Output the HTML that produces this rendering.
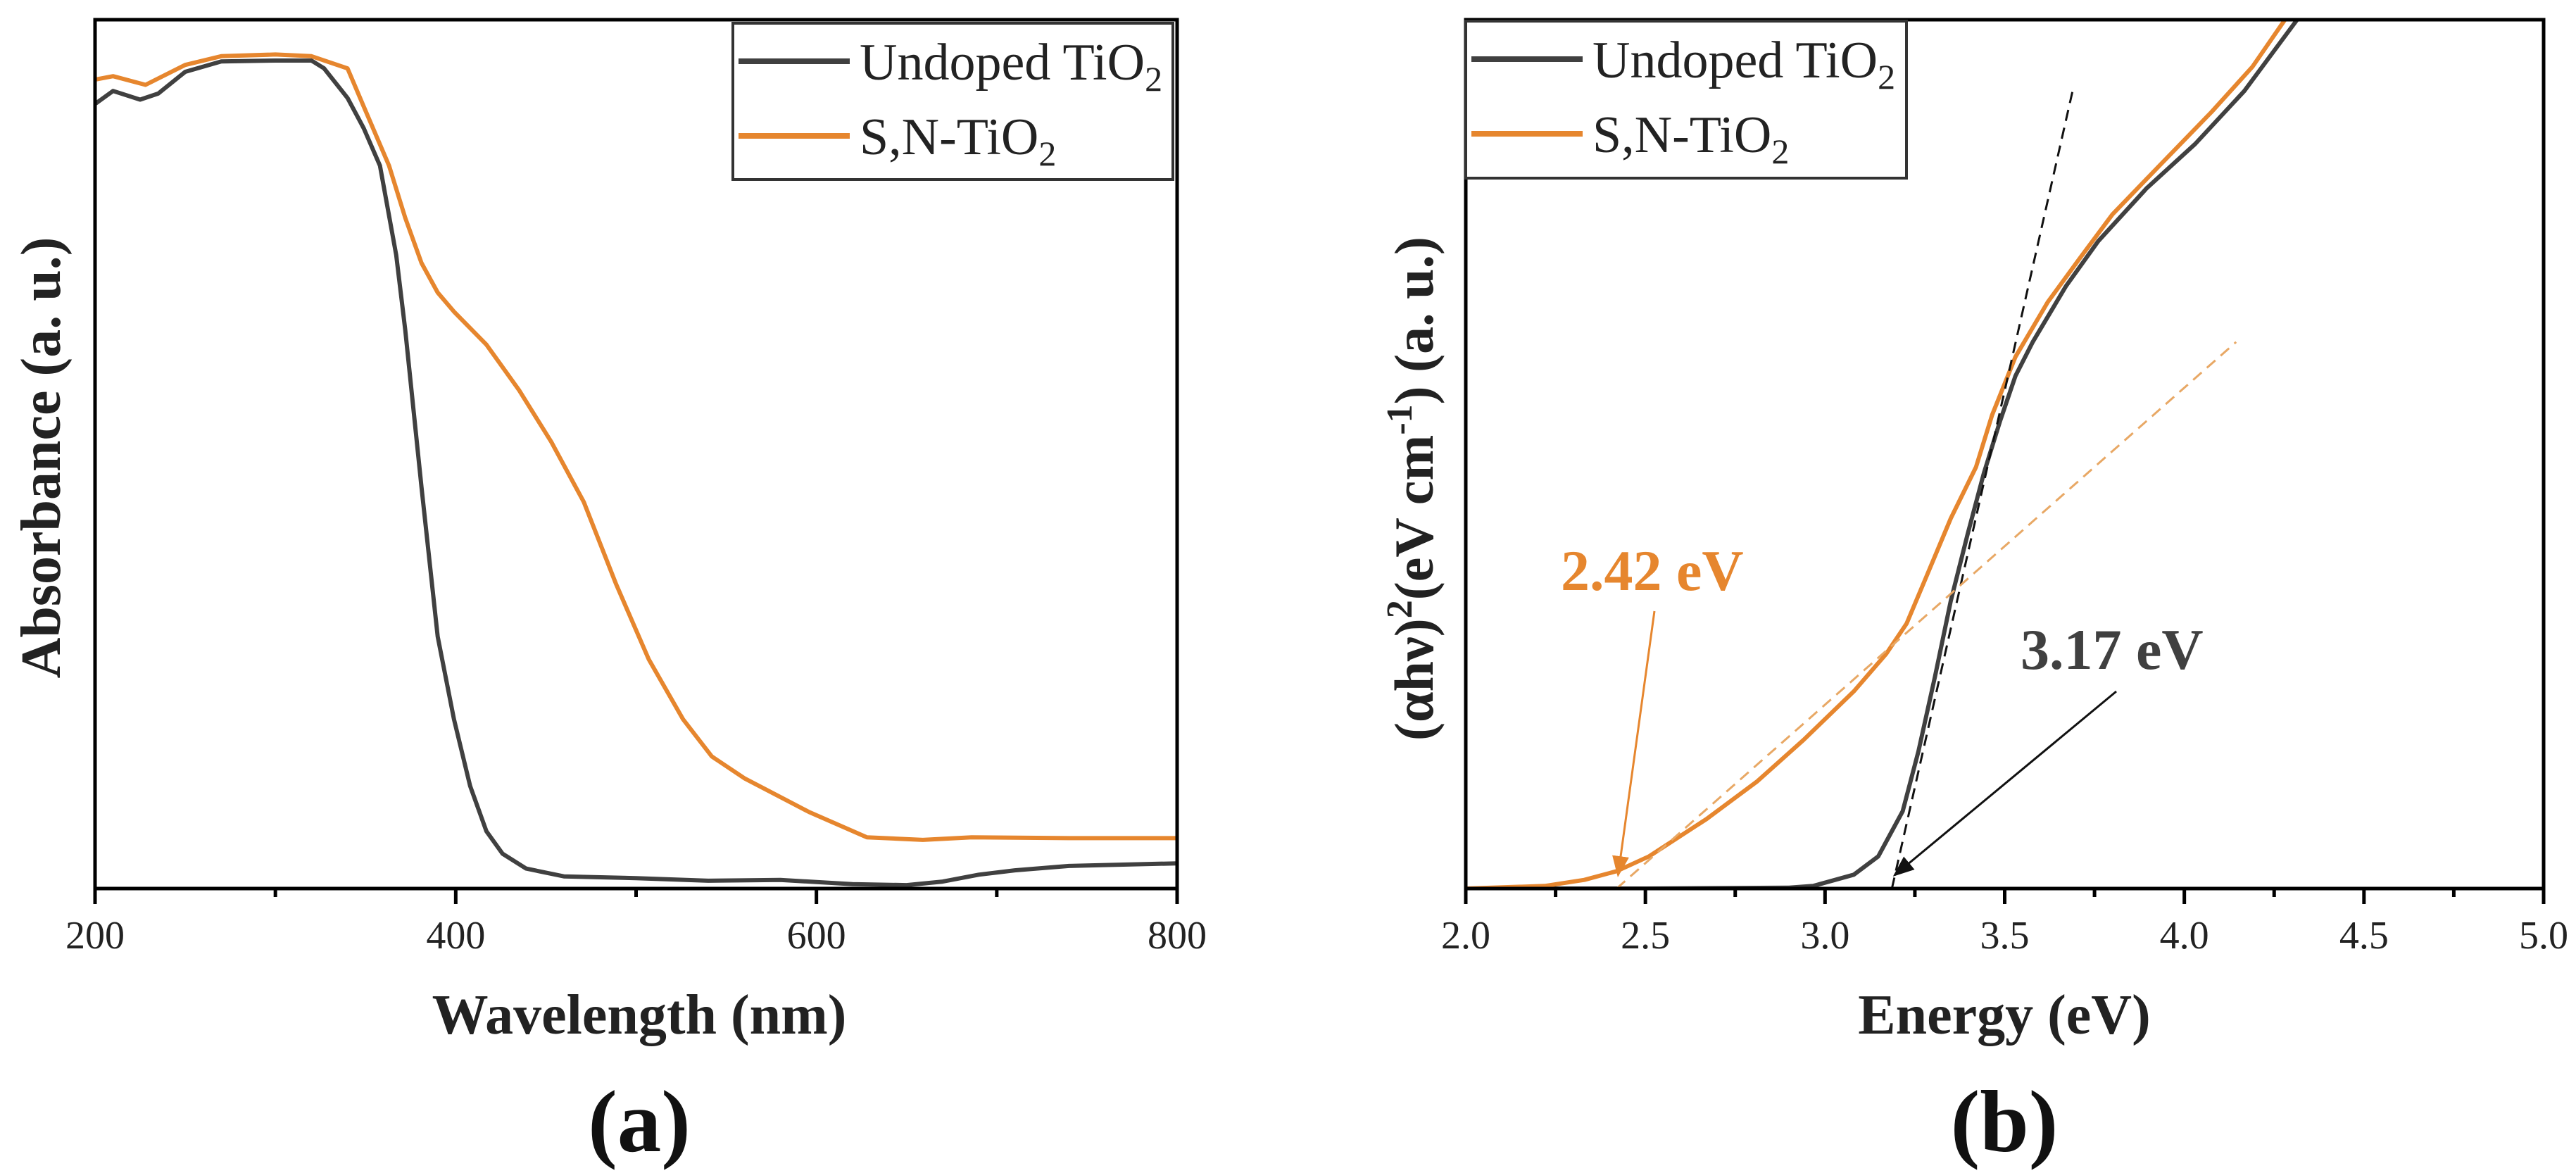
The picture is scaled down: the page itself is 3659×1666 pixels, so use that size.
<!DOCTYPE html>
<html><head><meta charset="utf-8"><style>
html,body{margin:0;padding:0;background:#fff;}
svg{display:block;font-family:"Liberation Serif","DejaVu Serif",serif;}
</style></head><body>
<svg id="fig" width="3659" height="1666" viewBox="0 0 3659 1666" xmlns="http://www.w3.org/2000/svg">
<g id="pa"></g>
<g id="pb"></g>
</svg>
<script>
// Panel (a) data
const wlGray = [200,210,225,235,250,270,300,320,327,340,349,358,367,372,381,390,399,408,417,426,439,460,500,540,580,620,650,670,690,710,740,800];
const absGray = [0.903,0.918,0.908,0.915,0.94,0.952,0.953,0.953,0.944,0.91,0.875,0.832,0.729,0.643,0.462,0.29,0.195,0.118,0.066,0.04,0.023,0.014,0.012,0.009,0.01,0.005,0.004,0.008,0.016,0.021,0.026,0.029];
const wlOr = [200,210,228,250,270,300,320,340,349,363,372,381,390,399,417,435,453,471,489,507,526,542,560,596,628,659,686,740,800];
const absOr = [0.931,0.935,0.925,0.948,0.958,0.96,0.958,0.944,0.90,0.832,0.772,0.72,0.686,0.664,0.626,0.574,0.514,0.445,0.35,0.264,0.195,0.152,0.127,0.088,0.059,0.056,0.059,0.058,0.058];
const ticksA = [200,400,600,800];
const minorA = [300,500,700];
// Panel (b) data
const eGray = [2.0,2.5,2.9,2.967,3.08,3.148,3.216,3.26,3.306,3.35,3.397,3.442,3.487,3.53,3.578,3.67,3.76,3.895,4.03,4.167,4.314];
const tGray = [0,0,0.001,0.003,0.016,0.037,0.089,0.158,0.244,0.331,0.408,0.478,0.538,0.59,0.629,0.693,0.745,0.806,0.857,0.918,1.0];
const eOr = [2.0,2.22,2.33,2.42,2.51,2.67,2.81,2.94,3.08,3.17,3.227,3.28,3.35,3.42,3.465,3.53,3.62,3.71,3.80,3.94,4.076,4.19,4.28];
const tOr = [0,0.003,0.01,0.02,0.037,0.08,0.123,0.171,0.227,0.27,0.305,0.357,0.426,0.485,0.545,0.612,0.675,0.726,0.776,0.836,0.894,0.946,1.0];
const fitGrayE = [3.186,3.69];
const fitGrayT = [0,0.92];
const fitOrE = [2.42,4.144];
const fitOrT = [0,0.629];
const ticksB = [2.0,2.5,3.0,3.5,4.0,4.5,5.0];
const minorB = [2.25,2.75,3.25,3.75,4.25,4.75];

const NS="http://www.w3.org/2000/svg";
const GRAY="#404040", ORANGE="#e6862e";
const TOP=28, BOT=1262;
function mk(parent,tag,attrs,text){const e=document.createElementNS(NS,tag);for(const k in attrs)e.setAttribute(k,attrs[k]);if(text!==undefined)e.textContent=text;parent.appendChild(e);return e;}
function yS(v){return BOT-v*(BOT-TOP);}
function path(xs,ys,fx){return xs.map((x,i)=>(i?'L':'M')+fx(x).toFixed(1)+','+yS(ys[i]).toFixed(1)).join(' ');}

function frame(g,L,R,ticks,minor,fx,fmt){
  const f=mk(g,'rect',{x:L,y:TOP,width:R-L,height:BOT-TOP,fill:'none',stroke:'#000','stroke-width':5});
  
  
  ticks.forEach(t=>{
    const l=mk(g,'line',{x1:fx(t),x2:fx(t),y1:BOT,y2:BOT+22,stroke:'#000','stroke-width':5});
    
    
    const tx=mk(g,'text',{x:fx(t),y:BOT+85,'font-size':56,'text-anchor':'middle',fill:'#222'},fmt(t));
    
    
  });
  minor.forEach(t=>{
    const l=mk(g,'line',{x1:fx(t),x2:fx(t),y1:BOT,y2:BOT+12,stroke:'#000','stroke-width':5});
    
    
  });
}
function legend(g,x0,y0,w,h){
  const r=mk(g,'rect',{x:x0,y:y0,width:w,height:h,fill:'#fff',stroke:'#333','stroke-width':4});
  
  
  const rows=[[GRAY,'Undoped TiO',y0+54],[ORANGE,'S,N-TiO',y0+160]];
  rows.forEach(([c,t,y])=>{
    const l=mk(g,'line',{x1:x0+8,x2:x0+166,y1:y,y2:y,stroke:c,'stroke-width':8});
    
    
    const tx=mk(g,'text',{x:x0+180,y:y+26,'font-size':74,fill:'#222'});
    
    
    mk(tx,'tspan',{},t);
    mk(tx,'tspan',{'font-size':50,dy:16},'2');
  });
}

// Panel A
(function(){
  const g=document.getElementById('pa');
  const L=135,R=1672;
  const fx=w=>L+(w-200)/600*(R-L);
  const pg=mk(g,'path',{d:path(wlGray,absGray,fx),fill:'none',stroke:GRAY,'stroke-width':6,'stroke-linejoin':'round'});
  
  
  const po=mk(g,'path',{d:path(wlOr,absOr,fx),fill:'none',stroke:ORANGE,'stroke-width':6,'stroke-linejoin':'round'});
  
  
  frame(g,L,R,ticksA,minorA,fx,t=>String(t));
  legend(g,1041,33,625,222);
  const xt=mk(g,'text',{x:908,y:1468,'font-size':80,'font-weight':'bold','text-anchor':'middle',fill:'#222'},'Wavelength (nm)');
  
  
  const yt=mk(g,'text',{x:0,y:0,'font-size':80,'font-weight':'bold','text-anchor':'middle',fill:'#222',transform:'translate(85,650) rotate(-90)'},'Absorbance (a. u.)');
  
  
  const pl=mk(g,'text',{x:908,y:1635,'font-size':125,'font-weight':'bold','text-anchor':'middle',fill:'#111'},'(a)');
  
  
})();

// Panel B
(function(){
  const g=document.getElementById('pb');
  const L=2082,R=3613;
  const fx=e=>L+(e-2)/3*(R-L);
  const clip=mk(g,'clipPath',{id:'cb'});
  mk(clip,'rect',{x:L,y:TOP,width:R-L,height:BOT-TOP});
  const pg=mk(g,'path',{d:path(eGray,tGray,fx),fill:'none',stroke:GRAY,'stroke-width':6,'clip-path':'url(#cb)','stroke-linejoin':'round'});
  
  
  const po=mk(g,'path',{d:path(eOr,tOr,fx),fill:'none',stroke:ORANGE,'stroke-width':6,'clip-path':'url(#cb)','stroke-linejoin':'round'});
  
  
  const fg=mk(g,'path',{d:path(fitGrayE,fitGrayT,fx),fill:'none',stroke:'#111','stroke-width':3,'stroke-dasharray':'16 10'});
  
  
  const fo=mk(g,'path',{d:path(fitOrE,fitOrT,fx),fill:'none',stroke:'#e8a865','stroke-width':3,'stroke-dasharray':'16 10'});
  
  
  const defs=mk(g,'defs',{});
  const m1=mk(defs,'marker',{id:'ao',viewBox:'0 0 10 8',markerWidth:30,markerHeight:24,refX:9,refY:4,orient:'auto',markerUnits:'userSpaceOnUse'});
  mk(m1,'path',{d:'M0,0 L10,4 L0,8 z',fill:ORANGE});
  const m2=mk(defs,'marker',{id:'ak',viewBox:'0 0 10 8',markerWidth:30,markerHeight:24,refX:9,refY:4,orient:'auto',markerUnits:'userSpaceOnUse'});
  mk(m2,'path',{d:'M0,0 L10,4 L0,8 z',fill:'#111'});
  const ao=mk(g,'line',{x1:2350,y1:868,x2:fx(2.42)+2,y2:1243,stroke:ORANGE,'stroke-width':3,'marker-end':'url(#ao)'});
  
  
  const ak=mk(g,'line',{x1:3006,y1:982,x2:fx(3.17)+12,y2:1243,stroke:'#111','stroke-width':3,'marker-end':'url(#ak)'});
  
  
  const t1=mk(g,'text',{x:2217,y:838,'font-size':82,'font-weight':'bold',fill:ORANGE},'2.42 eV');
  
  
  const t2=mk(g,'text',{x:2870,y:950,'font-size':82,'font-weight':'bold',fill:GRAY},'3.17 eV');
  
  
  frame(g,L,R,ticksB,minorB,fx,t=>t.toFixed(1));
  legend(g,2082,30,626,223);
  const xt=mk(g,'text',{x:2847,y:1468,'font-size':80,'font-weight':'bold','text-anchor':'middle',fill:'#222'},'Energy (eV)');
  
  
  const yt=mk(g,'text',{x:0,y:0,'font-size':78,'font-weight':'bold','text-anchor':'middle',fill:'#222',transform:'translate(2035,694) rotate(-90)'});
  
  
  mk(yt,'tspan',{},'(αhν)');
  mk(yt,'tspan',{'font-size':52,dy:-30},'2');
  mk(yt,'tspan',{dy:30},'(eV cm');
  mk(yt,'tspan',{'font-size':52,dy:-30},'-1');
  mk(yt,'tspan',{dy:30},') (a. u.)');
  const pl=mk(g,'text',{x:2847,y:1635,'font-size':125,'font-weight':'bold','text-anchor':'middle',fill:'#111'},'(b)');
  
  
})();
</script>
</body></html>
